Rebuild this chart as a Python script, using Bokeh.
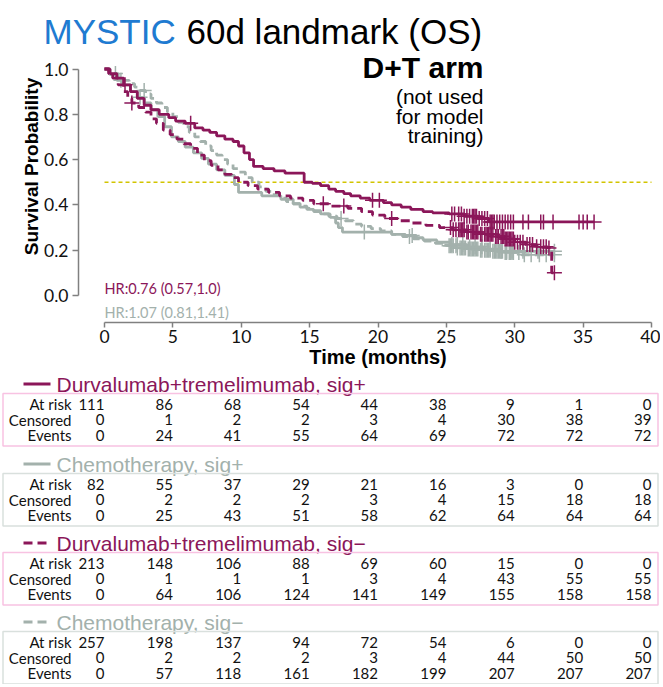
import numpy as np
from bokeh.plotting import figure
from bokeh.models import Range1d, FixedTicker, NumeralTickFormatter, LinearAxis
from bokeh.core.properties import value
from bokeh.embed import file_html
from bokeh.resources import INLINE

# ---------------- data ----------------
# Durvalumab+tremelimumab, sig+  (solid crimson)
dtp_t = [0, 0.4, 0.9, 1.4, 1.9, 2.4, 2.9, 3.4, 4.0, 4.7, 5.2, 5.9, 6.6, 7.2, 7.7, 8.2, 8.8, 9.4, 9.8, 10.2,
         10.6, 10.9, 11.6, 12.4, 13.2, 14.6, 15.2, 15.8, 16.4, 16.9, 17.5, 18.0, 18.7, 19.4, 20.4, 21.0,
         21.7, 22.4, 23.3, 24.0, 25.2, 26.3, 27.3, 28.1]
dtp_s = [1.0, .98, .96, .93, .90, .87, .84, .82, .80, .785, .77, .76, .74, .73, .72, .705, .69, .68, .66, .63,
         .60, .57, .56, .55, .54, .50, .495, .485, .47, .46, .45, .44, .43, .42, .41, .40,
         .39, .38, .37, .365, .36, .35, .34, .325]
dtp_end = 35.8
dtp_cens = [1.5, 6.3, 19.6, 20.1,
            25.4, 25.6, 25.9, 26.1, 26.3, 26.5, 26.7, 26.9, 27.0, 27.1, 27.2, 27.4, 27.6, 27.8, 28.0,
            28.2, 28.3, 28.4, 28.5, 28.7, 28.9, 29.1, 29.3, 29.5, 29.7, 29.9,
            30.6, 31.0, 31.9, 32.1, 32.8, 34.7, 35.0, 35.3, 35.8]

# Chemotherapy, sig+  (solid grey)
chp_t = [0, 0.4, 0.9, 1.3, 1.9, 2.4, 2.9, 3.4, 3.9, 4.4, 4.9, 5.4, 5.9, 6.5, 7.1, 7.6, 8.2, 8.8, 9.5, 9.8,
         11.5, 12.9, 13.8, 14.3, 14.8, 15.3, 15.8, 16.5, 16.9, 17.1, 17.4, 21.0, 22.0, 22.8, 23.3, 24.3,
         25.3, 26.5, 27.8, 29.0]
chp_s = [1.0, .975, .95, .93, .90, .875, .85, .82, .79, .745, .70, .68, .655, .63, .605, .58, .555, .53, .49, .455,
         .44, .425, .405, .39, .38, .37, .36, .345, .32, .30, .28, .27, .265, .255, .245, .235,
         .225, .215, .205, .195]
chp_end = 32.9
chp_cens = [1.2, 2.6, 19.0, 22.5,
            25.4, 25.8, 26.2, 26.7, 27.1, 27.6, 28.2, 28.6, 29.0, 29.4, 29.8,
            30.6, 31.7, 32.9]

# Durvalumab+tremelimumab, sig-  (dashed crimson)
dtn_t = [0, 0.3, 0.6, 1.0, 1.4, 1.7, 2.0, 2.5, 3.0, 3.4, 3.8, 4.3, 4.8, 5.3, 5.8, 6.3, 6.8, 7.3, 7.8, 8.3,
         8.8, 9.3, 9.8, 10.5, 11.2, 12.0, 12.8, 13.6, 14.5, 15.3, 16.5, 17.8, 18.8, 19.6, 20.5, 21.5,
         22.5, 23.5, 24.5, 25.5, 26.5, 27.5, 28.5, 29.3, 30.0, 30.8, 31.6, 32.4, 32.7]
dtn_s = [1.0, .98, .96, .93, .90, .87, .85, .83, .81, .78, .76, .73, .71, .69, .67, .65, .62, .595, .575, .555,
         .535, .52, .50, .485, .47, .455, .44, .43, .42, .405, .395, .385, .37, .355, .34, .33,
         .32, .31, .30, .29, .28, .27, .26, .25, .235, .225, .215, .21, .10]
dtn_end = 32.9
dtn_cens = [2.0, 16.0, 17.5, 21.0,
            25.3, 25.5, 25.7, 25.9, 26.0, 26.1, 26.2, 26.3, 26.5, 26.6, 26.8, 26.9, 27.0, 27.1, 27.2,
            27.3, 27.5, 27.6, 27.8, 27.9, 28.0, 28.1, 28.2, 28.3, 28.4, 28.6, 28.7, 28.8, 29.0, 29.1,
            29.2, 29.3, 29.4, 29.5, 29.6, 29.7, 29.8, 29.9, 30.0,
            30.2, 30.4, 30.6, 30.9, 31.1, 31.3, 31.6, 31.9, 32.1, 32.3, 32.5, 32.9]

# Chemotherapy, sig-  (dashed grey)
chn_t = [0, 0.3, 0.6, 1.0, 1.4, 1.8, 2.2, 2.6, 3.0, 3.4, 3.8, 4.2, 4.6, 5.0, 5.4, 5.8, 6.2, 6.6, 7.0, 7.4,
         7.8, 8.2, 8.6, 9.0, 9.4, 9.8, 10.3, 10.8, 11.3, 11.8, 12.3, 12.8, 13.3, 13.8, 14.3, 14.8, 15.3,
         15.8, 16.4, 17.0, 17.6, 18.2, 18.8, 19.5, 20.2, 21.0, 21.8, 22.6, 23.4, 24.2, 25.0, 25.8, 26.6,
         27.5, 28.4, 29.3, 30.5]
chn_s = [1.0, .99, .98, .965, .95, .935, .92, .905, .89, .87, .85, .83, .81, .79, .765, .745, .72, .70, .68, .66,
         .64, .62, .60, .58, .56, .545, .52, .50, .48, .46, .445, .43, .415, .405, .395, .385, .375,
         .36, .35, .34, .33, .315, .305, .295, .285, .27, .26, .25, .24, .23, .22, .21, .205,
         .20, .195, .19, .18]
chn_end = 32.9
chn_cens = [0.8, 2.9, 17.3, 22.3,
            25.2, 25.3, 25.4, 25.5, 25.7, 25.8, 26.0, 26.1, 26.2, 26.3, 26.4, 26.6, 26.7, 26.8, 26.9,
            27.0, 27.1, 27.2, 27.3, 27.5, 27.6, 27.8, 27.9, 28.0, 28.1, 28.2, 28.4, 28.5, 28.6, 28.7,
            28.8, 28.9, 29.0, 29.1, 29.3, 29.4, 29.6, 29.7, 29.8, 29.9,
            30.3, 30.7, 31.2, 31.8, 32.3, 32.9]

MEDIAN_LEVEL = 0.5
HR_TEXTS = ["HR:0.76 (0.57,1.0)", "HR:1.07 (0.81,1.41)"]

# risk tables
TABLE_TIMES = [0, 5, 10, 15, 20, 25, 30, 35, 40]
ROW_NAMES = ["At risk", "Censored", "Events"]
dtp_risk = [111, 86, 68, 54, 44, 38, 9, 1, 0]
dtp_censored = [0, 1, 2, 2, 3, 4, 30, 38, 39]
dtp_events = [0, 24, 41, 55, 64, 69, 72, 72, 72]
chp_risk = [82, 55, 37, 29, 21, 16, 3, 0, 0]
chp_censored = [0, 2, 2, 2, 3, 4, 15, 18, 18]
chp_events = [0, 25, 43, 51, 58, 62, 64, 64, 64]
dtn_risk = [213, 148, 106, 88, 69, 60, 15, 0, 0]
dtn_censored = [0, 1, 1, 1, 3, 4, 43, 55, 55]
dtn_events = [0, 64, 106, 124, 141, 149, 155, 158, 158]
chn_risk = [257, 198, 137, 94, 72, 54, 6, 0, 0]
chn_censored = [0, 2, 2, 2, 3, 4, 44, 50, 50]
chn_events = [0, 57, 118, 161, 182, 199, 207, 207, 207]

X_TICKS = [0, 5, 10, 15, 20, 25, 30, 35, 40]
Y_TICKS = [0.0, 0.2, 0.4, 0.6, 0.8, 1.0]

# ---------------- styles ----------------
CRIMSON = "#8B1659"
GREY = "#A3B1AC"
BLUE = "#1F7BD1"
YELLOW = "#D2C400"
PINK = "#F8C2E2"
GREYBOX = "#D9E0DD"
AXIS = "#808080"
NUM_FONT = "Lato"
SANS = "Liberation Sans"

# ---------------- layout (page pixels) ----------------
W, H = 660, 684
X0_PX, PX_PER_MO = 104.0, 13.675      # pixel of t=0, pixels per month
Y0_PX, PX_PER_UNIT = 295.0, 226.5     # pixel of S=0, pixels per unit survival
YAXIS_PX, XAXIS_PX = 78, 322


def px2t(px):
    return (np.asarray(px, dtype=float) - X0_PX) / PX_PER_MO


def py2s(py):
    return (Y0_PX - np.asarray(py, dtype=float)) / PX_PER_UNIT


def surv_at(times, surv, t):
    idx = np.searchsorted(np.asarray(times), np.asarray(t), side="right") - 1
    return list(np.asarray(surv)[idx])


p = figure(width=W, height=H,
           x_range=Range1d(float(px2t(0)), float(px2t(W))),
           y_range=Range1d(float(py2s(H)), float(py2s(0))),
           output_backend="svg", toolbar_location=None,
           x_axis_location=None, y_axis_location=None,
           min_border_left=0, min_border_right=0, min_border_top=0, min_border_bottom=0)
p.outline_line_color = None
p.xgrid.visible = False
p.ygrid.visible = False
p.background_fill_color = "white"
p.border_fill_color = "white"

xaxis = LinearAxis(fixed_location=float(py2s(XAXIS_PX)))
yaxis = LinearAxis(fixed_location=float(px2t(YAXIS_PX)))
p.add_layout(xaxis, "below")
p.add_layout(yaxis, "left")

for ax in (xaxis, yaxis):
    ax.axis_line_color = AXIS
    ax.axis_line_width = 1.5
    ax.major_tick_line_color = AXIS
    ax.major_tick_line_width = 1.5
    ax.major_tick_in = 0
    ax.minor_tick_in = 0
    ax.minor_tick_out = 0
    ax.major_label_text_font = NUM_FONT
    ax.major_label_text_font_size = "17.5px"
    ax.major_label_text_color = "#111111"

xaxis.ticker = FixedTicker(ticks=X_TICKS)
xaxis.bounds = (X_TICKS[0], X_TICKS[-1])
xaxis.major_tick_out = 5
xaxis.major_label_standoff = 2

yaxis.ticker = FixedTicker(ticks=Y_TICKS)
yaxis.bounds = (Y_TICKS[0], Y_TICKS[-1])
yaxis.formatter = NumeralTickFormatter(format="0.0")
yaxis.major_tick_out = 6
yaxis.major_label_standoff = 4

# axis titles
p.text(x=[float(px2t(31))], y=[float(py2s(166))], text=["Survival Probability"], angle=np.pi / 2,
       text_color="black", text_font=value(SANS), text_font_style="bold",
       text_font_size=value("19px"), text_align="center", text_baseline="middle")
p.text(x=[(X_TICKS[0] + X_TICKS[-1]) / 2], y=[float(py2s(356))], text=["Time (months)"],
       text_color="black", text_font=value(SANS), text_font_style="bold",
       text_font_size=value("20px"), text_align="center", text_baseline="middle")

# median line
p.line(x=[X_TICKS[0], X_TICKS[-1]], y=[MEDIAN_LEVEL, MEDIAN_LEVEL],
       line_color=YELLOW, line_width=1.4, line_dash="4 3")

curves = [
    (chn_t, chn_s, chn_end, chn_cens, GREY, "9 5"),
    (chp_t, chp_s, chp_end, chp_cens, GREY, "solid"),
    (dtn_t, dtn_s, dtn_end, dtn_cens, CRIMSON, "9 5"),
    (dtp_t, dtp_s, dtp_end, dtp_cens, CRIMSON, "solid"),
]
for times, surv, tend, cens, col, dash in curves:
    xs = list(times) + [tend]
    ys = list(surv) + [surv[-1]]
    p.step(x=xs, y=ys, mode="after", line_color=col, line_width=2.8, line_dash=dash)
    p.scatter(x=cens, y=surv_at(times, surv, cens), marker="cross", size=15,
              line_color=col, line_width=1.5)

p.text(x=[0, 0], y=list(py2s([288, 312])), text=HR_TEXTS, text_color=[CRIMSON, GREY],
       text_font=value(NUM_FONT), text_font_size=value("14.5px"),
       text_baseline="middle", text_align="left")

# titles and notes
p.text(x=list(px2t([43, 186])), y=list(py2s([31, 31])), text=["MYSTIC", "60d landmark (OS)"],
       text_color=[BLUE, "black"], text_font=value(SANS), text_font_size=value("35px"),
       text_baseline="alphabetic", text_align="left")
p.text(x=[float(px2t(483))], y=[float(py2s(67))], text=["D+T arm"], text_color="black",
       text_font=value(SANS), text_font_style="bold", text_font_size=value("30px"),
       text_baseline="alphabetic", text_align="right")
p.text(x=list(px2t([483, 483, 483])), y=list(py2s([96, 115.5, 135])),
       text=["(not used", "for model", "training)"], text_color="black",
       text_font=value(SANS), text_font_size=value("21px"),
       text_baseline="alphabetic", text_align="right")

# ---------------- risk tables ----------------
blocks = [
    ("Durvalumab+tremelimumab, sig+", CRIMSON, "solid", PINK, [dtp_risk, dtp_censored, dtp_events]),
    ("Chemotherapy, sig+", GREY, "solid", GREYBOX, [chp_risk, chp_censored, chp_events]),
    ("Durvalumab+tremelimumab, sig\u2212", CRIMSON, "9 5", PINK, [dtn_risk, dtn_censored, dtn_events]),
    ("Chemotherapy, sig\u2212", GREY, "9 5", GREYBOX, [chn_risk, chn_censored, chn_events]),
]
block_tops = [383.5, 463.5, 542.5, 621.5]
row_offsets = [20, 35.5, 51]

for (title, col, dash, boxcol, rows), L in zip(blocks, block_tops):
    p.segment(x0=[float(px2t(23))], y0=[float(py2s(L))], x1=[float(px2t(50))], y1=[float(py2s(L))],
              line_color=col, line_width=3, line_dash=dash)
    p.text(x=[float(px2t(56))], y=[float(py2s(L))], text=[title], text_color=col, text_font=value(SANS),
           text_font_size=value("21px"), text_baseline="middle", text_align="left")
    p.quad(left=[float(px2t(2.5))], right=[float(px2t(657.5))],
           top=[float(py2s(L + 9.5))], bottom=[float(py2s(L + 62))],
           fill_color=None, line_color=boxcol, line_width=1.5)
    p.text(x=[float(px2t(71))] * 3, y=list(py2s([L + o for o in row_offsets])), text=ROW_NAMES,
           text_color="#111111", text_font=value(NUM_FONT), text_font_size=value("15px"),
           text_baseline="middle", text_align="right")
    for vals, o in zip(rows, row_offsets):
        p.text(x=TABLE_TIMES, y=[float(py2s(L + o))] * len(vals), text=[str(v) for v in vals],
               text_color="#111111", text_font=value(NUM_FONT), text_font_size=value("15px"),
               text_baseline="middle", text_align="right")

open("out.html", "w").write(file_html(p, INLINE))
